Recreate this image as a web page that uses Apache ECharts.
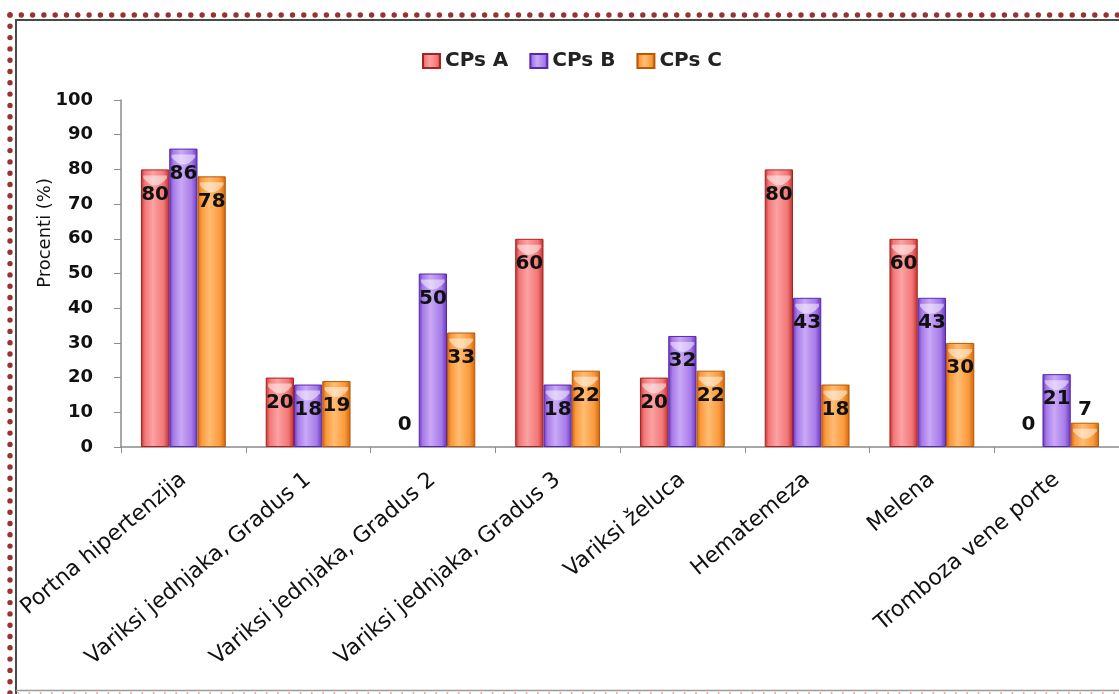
<!DOCTYPE html>
<html>
<head>
<meta charset="utf-8">
<script src="https://cdn.jsdelivr.net/npm/echarts@6/dist/echarts.min.js"></script>
<style>
  html, body { margin: 0; padding: 0; background: #ffffff; }
  #chart { width: 1119px; height: 694px; }
</style>
</head>
<body>
<div id="chart"></div>
<script>
// Categories and values per group (percent)
const categories = [
  'Portna hipertenzija',
  'Variksi jednjaka, Gradus 1',
  'Variksi jednjaka, Gradus 2',
  'Variksi jednjaka, Gradus 3',
  'Variksi želuca',
  'Hematemeza',
  'Melena',
  'Tromboza vene porte'
];
const seriesNames = ['CPs A', 'CPs B', 'CPs C'];
const cpsA = [80, 20, 0, 60, 20, 80, 60, 0];
const cpsB = [86, 18, 50, 18, 32, 43, 43, 21];
const cpsC = [78, 19, 33, 22, 22, 18, 30, 7];
const yTicks = [0, 10, 20, 30, 40, 50, 60, 70, 80, 90, 100];

const FONT = '"DejaVu Sans", sans-serif';

// edge / light / body colours for the cylinder-like shading
const palettes = [
  { edge: '#bf2f2b', body: '#f27777', light: '#fca2a2', border: '#a8221f' },
  { edge: '#6634bd', body: '#a67ae8', light: '#c9a9f6', border: '#5a28b0' },
  { edge: '#cc650c', body: '#fb993a', light: '#ffbd74', border: '#b85808' }
];

function shade(p) {
  return new echarts.graphic.LinearGradient(0, 0, 1, 0, [
    { offset: 0, color: p.edge },
    { offset: 0.14, color: p.body },
    { offset: 0.42, color: p.light },
    { offset: 0.8, color: p.body },
    { offset: 1, color: p.edge }
  ]);
}

// value labels sit inside the top of the bar; very short bars get them above
function withLabels(values) {
  return values.map(function (v) {
    if (v === 0) {
      return { value: v, itemStyle: { borderWidth: 0 }, label: { position: 'top', distance: 12 } };
    }
    if (v < 10) return { value: v, label: { position: 'top', distance: 3 } };
    return v;
  });
}

const allValues = [cpsA, cpsB, cpsC];

const barSeries = allValues.map(function (vals, i) {
  return {
    name: seriesNames[i],
    type: 'bar',
    data: withLabels(vals),
    barGap: '0%',
    barCategoryGap: '32%',
    itemStyle: {
      color: shade(palettes[i]),
      borderColor: palettes[i].border,
      borderWidth: 1
    },
    label: {
      show: true,
      position: 'insideTop',
      distance: 15,
      color: '#111',
      fontFamily: FONT,
      fontWeight: 'bold',
      fontSize: 20
    },
    z: 2
  };
});

// top-of-bar highlight caps
const capSeries = allValues.map(function (vals, i) {
  return {
    name: seriesNames[i] + ' cap',
    type: 'pictorialBar',
    data: vals.map(function (v) { return v > 0 ? v : '-'; }),
    barGap: '0%',
    barCategoryGap: '32%',
    symbol: 'path://M0,0 L40,0 L40,3 Q20,20 0,3 Z',
    symbolSize: ['84%', 10],
    symbolPosition: 'end',
    symbolOffset: [0, 6],
    itemStyle: { color: 'rgba(255,255,255,0.5)' },
    silent: true,
    z: 3
  };
});

const chart = echarts.init(document.getElementById('chart'), null, { renderer: 'canvas' });

const dotStyle = { stroke: '#993333', lineWidth: 5.4, lineDash: [0, 11.3], lineCap: 'round' };

chart.setOption({
  backgroundColor: '#ffffff',
  animation: false,
  legend: {
    data: seriesNames,
    left: 417,
    top: 46,
    icon: 'rect',
    itemWidth: 17,
    itemHeight: 14,
    itemGap: 21,
    textStyle: { fontFamily: FONT, fontSize: 20, fontWeight: 'bold', color: '#222' }
  },
  grid: { left: 121, top: 100, width: 1008, bottom: 247, containLabel: false },
  xAxis: {
    type: 'category',
    data: categories,
    axisLine: { lineStyle: { color: '#8c8c8c', width: 1.5 } },
    axisTick: { show: true, alignWithLabel: false, length: 6, lineStyle: { color: '#8c8c8c' } },
    axisLabel: {
      interval: 0,
      rotate: 40,
      margin: 30,
      color: '#111',
      fontFamily: FONT,
      fontSize: 22
    }
  },
  yAxis: {
    type: 'value',
    min: 0,
    max: 100,
    interval: 10,
    splitLine: { show: false },
    axisLine: { show: true, lineStyle: { color: '#8c8c8c', width: 1.5 } },
    axisTick: { show: true, length: 7, lineStyle: { color: '#8c8c8c' } },
    axisLabel: {
      margin: 28,
      color: '#111',
      fontFamily: FONT,
      fontWeight: 'bold',
      fontSize: 18,
      formatter: function (v) { return yTicks.indexOf(v) >= 0 ? String(v) : ''; }
    }
  },
  graphic: [
    // axis title
    {
      type: 'text',
      left: 36,
      top: 178,
      rotation: Math.PI / 2,
      style: { text: 'Procenti (%)', font: '18px ' + FONT, fill: '#111' },
      z: 10
    },
    // frame: dotted outer border
    { type: 'line', shape: { x1: 10, y1: 15, x2: 1119, y2: 15 }, style: dotStyle, silent: true },
    { type: 'line', shape: { x1: 10, y1: 15, x2: 10, y2: 694 }, style: dotStyle, silent: true },
    { type: 'line', shape: { x1: 18, y1: 693, x2: 1119, y2: 693 },
      style: { stroke: '#e0a8a8', lineWidth: 2, lineDash: [0, 11.3], lineCap: 'round' }, silent: true },
    // frame: inner solid border
    { type: 'line', shape: { x1: 15, y1: 20, x2: 1119, y2: 20 }, style: { stroke: '#4a4a4a', lineWidth: 2 }, silent: true },
    { type: 'line', shape: { x1: 16, y1: 20, x2: 16, y2: 694 }, style: { stroke: '#4a4a4a', lineWidth: 2 }, silent: true },
    { type: 'line', shape: { x1: 16, y1: 690.5, x2: 1119, y2: 690.5 }, style: { stroke: '#9a9a9a', lineWidth: 1.5 }, silent: true }
  ],
  series: barSeries.concat(capSeries)
});
</script>
</body>
</html>
